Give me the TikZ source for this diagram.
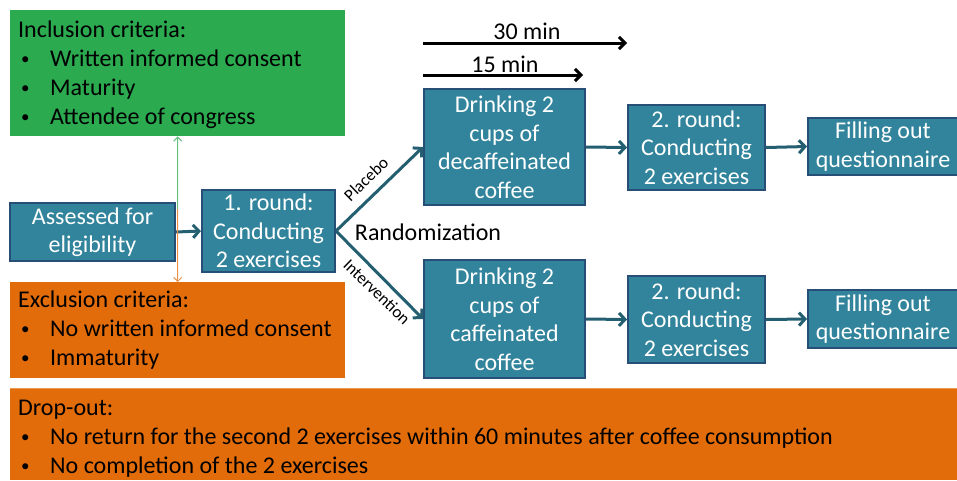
\documentclass[tikz,border=0pt]{standalone}
\usepackage{fontspec}
\setmainfont{Carlito}
\usetikzlibrary{arrows.meta,calc}
\definecolor{tealfill}{RGB}{49,132,155}
\definecolor{tealborder}{RGB}{38,78,118}
\definecolor{arrcol}{RGB}{35,95,112}
\definecolor{grn}{RGB}{43,170,80}
\definecolor{org}{RGB}{227,108,10}
\newcommand\bul{\makebox[32pt][l]{\hspace{3pt}\raisebox{2pt}{\fontsize{17}{17}\selectfont•}}}
\begin{document}
\begin{tikzpicture}[x=1pt,y=-1pt,
  box/.style={draw=tealborder,line width=2pt,fill=tealfill,text=white,align=center,inner sep=0pt,font=\fontsize{24}{28.5}\selectfont},
  flow/.style={draw=arrcol,line width=3pt,-{Straight Barb[length=6pt,width=13pt,line width=3pt]}},
  timearr/.style={draw=black,line width=3pt,-{Straight Barb[length=6pt,width=12pt,line width=3pt]}},
  panel/.style={inner sep=0pt,anchor=north west},
  listtxt/.style={anchor=north west,align=left,inner sep=0pt,font=\fontsize{24}{29}\selectfont},
  lbl/.style={inner sep=0pt,font=\fontsize{17}{19}\selectfont},
  plain/.style={inner sep=0pt,font=\fontsize{24}{28}\selectfont}
]
\useasboundingbox (0,0) rectangle (957,480);
% panels
\node[panel,fill=grn,minimum width=335pt,minimum height=126pt] (incl) at (10,10) {};
\node[panel,fill=org,minimum width=335pt,minimum height=96pt] (excl) at (10,282) {};
\node[panel,fill=org,minimum width=947pt,minimum height=92pt] (drop) at (10,388) {};
\draw[org!70!white,line width=1pt] (drop.north west) -- (drop.north east);
\node[listtxt] (incltxt) at (18,16.7) {\strut Inclusion criteria:\\ \bul Written informed consent\\ \bul Maturity\\ \bul Attendee of congress};
\node[listtxt] (excltxt) at (18,286.7) {\strut Exclusion criteria:\\ \bul No written informed consent\\ \bul Immaturity};
\node[listtxt] (droptxt) at (18,394.7) {\strut Drop-out:\\ \bul No return for the second 2 exercises within 60 minutes after coffee consumption\\ \bul No completion of the 2 exercises};
% flow boxes
\node[box,minimum width=165pt,minimum height=58pt] (assess) at (92.5,232) {Assessed for\\eligibility};
\node[box,minimum width=133pt,minimum height=82pt] (r1) at (268.5,231) {1. round:\\Conducting\\2 exercises};
\node[box,minimum width=161pt,minimum height=116pt] (d1) at (504.5,147) {Drinking 2\\cups of\\decaffeinated\\coffee};
\node[box,minimum width=161pt,minimum height=118pt] (d2) at (504.5,319) {Drinking 2\\cups of\\caffeinated\\coffee};
\node[box,minimum width=137pt,minimum height=85pt] (r2a) at (696.5,147.5) {2. round:\\Conducting\\2 exercises};
\node[box,minimum width=137pt,minimum height=87pt] (r2b) at (696.5,319.5) {2. round:\\Conducting\\2 exercises};
\node[box,minimum width=150pt,minimum height=57pt] (f1) at (883,146.5) {Filling out\\questionnaire};
\node[box,minimum width=150pt,minimum height=58pt] (f2) at (883,319) {Filling out\\questionnaire};
% arrows
\draw[flow] (assess.east) -- (r1.west);
\draw[flow] (r1.east) -- (d1.west);
\draw[flow] (r1.east) -- (d2.west);
\draw[flow] (d1.east) -- (r2a.west);
\draw[flow] (d2.east) -- (r2b.west);
\draw[flow] (r2a.east) -- (f1.west);
\draw[flow] (r2b.east) -- (f2.west);
\node[lbl,rotate=44] (plac) at (366,179) {Placebo};
\node[lbl,rotate=-44] (interv) at (377,292) {Intervention};
\node[plain] (rand) at (428,232) {Randomization};
% inclusion/exclusion arrow
\coordinate (mid) at ($(incl.south)!0.5!(excl.north)$);
\draw[grn!75!white,line width=1pt,-{Straight Barb[length=4pt,width=8pt]}] (mid) -- (incl.south);
\draw[org!75!white,line width=1pt,-{Straight Barb[length=4pt,width=8pt]}] (mid) -- (excl.north);
% time arrows
\coordinate (t30a) at ($(d1.west|-0,43)$);
\coordinate (t30b) at ($(r2a.west|-0,43)$);
\coordinate (t15a) at ($(d1.west|-0,75)$);
\coordinate (t15b) at ($(d1.east|-0,75)+(-3,0)$);
\draw[timearr] (t30a) -- (t30b);
\draw[timearr] (t15a) -- (t15b);
\node[plain] (l30) at (527,31) {30 min};
\node[plain] (l15) at (505,64) {15 min};
\end{tikzpicture}
\end{document}
